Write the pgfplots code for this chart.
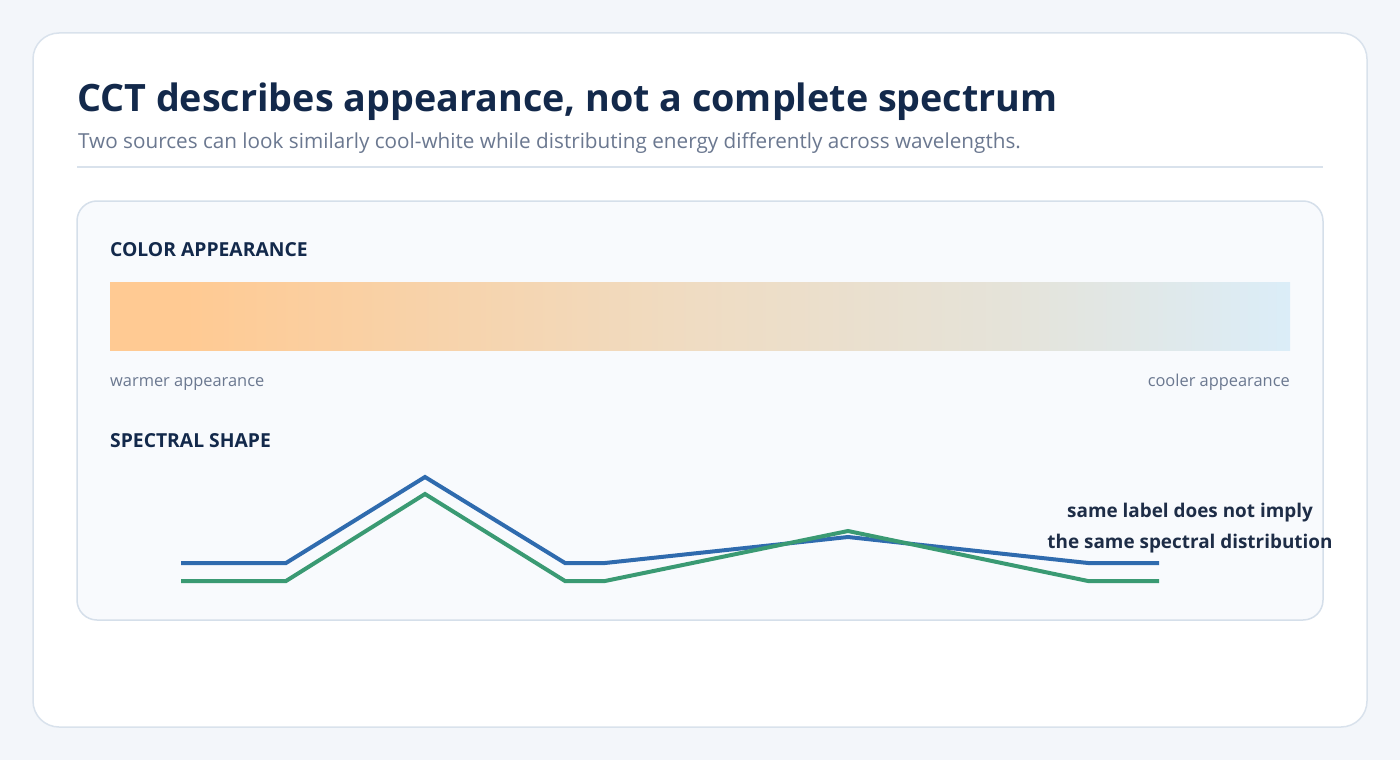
\documentclass[border=0pt]{standalone}
\usepackage{fontspec}
\setmainfont{Open Sans}
\usepackage{pgfplots}
\pgfplotsset{compat=1.18}

\definecolor{pagebg}{HTML}{F3F6FA}
\definecolor{cardline}{HTML}{D9E2EC}
\definecolor{panelbg}{HTML}{F8FAFD}
\definecolor{panelline}{HTML}{D5DFEA}
\definecolor{navy}{HTML}{13294B}
\definecolor{subgray}{HTML}{6B7890}
\definecolor{srcA}{HTML}{2F6BAE}
\definecolor{srcB}{HTML}{3A9A73}
\definecolor{notecol}{HTML}{1E2D47}
\definecolor{warm}{HTML}{FFCA93}
\definecolor{warmmid}{HTML}{EFDCC3}
\definecolor{neutral}{HTML}{E5E3D9}
\definecolor{cool}{HTML}{DBEDF8}

% 25bp = left edge of the bar, 75bp = right edge
\pgfdeclarehorizontalshading{cct}{100bp}{color(0bp)=(warm); color(28.2bp)=(warm);
  color(50bp)=(warmmid); color(63bp)=(neutral); color(75bp)=(cool); color(100bp)=(cool)}

\begin{document}
\begin{tikzpicture}[x=1pt,y=-1pt]
% page and card
\fill[pagebg] (0,0) rectangle (1400,760);
\draw[cardline, line width=1.5pt, fill=white, rounded corners=26pt] (33,33) rectangle (1367,727);

% titles
\node[anchor=base west, inner sep=0, text=navy, font=\fontsize{37.7}{44}\selectfont\bfseries]
  at (77,111) {CCT describes appearance, not a complete spectrum};
\node[anchor=base west, inner sep=0, text=subgray, font=\fontsize{20.7}{24}\selectfont]
  at (78,148) {Two sources can look similarly cool-white while distributing energy differently across wavelengths.};
\draw[cardline, line width=2pt] (77,167) -- (1323,167);

% inner panel
\draw[panelline, line width=1.5pt, fill=panelbg, rounded corners=20pt] (77,201) rectangle (1323,620);

\node[anchor=base west, inner sep=0, text=navy, font=\fontsize{19.3}{22}\selectfont\bfseries]
  at (110,256) {COLOR APPEARANCE};
\shade[shading=cct] (110,282) rectangle (1290,350);
\node[anchor=base west, inner sep=0, text=subgray, font=\fontsize{16.4}{19}\selectfont]
  at (110,386) {warmer appearance};
\node[anchor=base east, inner sep=0, text=subgray, font=\fontsize{16.4}{19}\selectfont]
  at (1290,386) {cooler appearance};

\node[anchor=base west, inner sep=0, text=navy, font=\fontsize{19.3}{22}\selectfont\bfseries]
  at (110,447) {SPECTRAL SHAPE};

% spectral curves
\begin{axis}[
  at={(181pt,-600pt)}, anchor=south west,
  scale only axis, width=978pt, height=200pt,
  xmin=181, xmax=1159, ymin=0, ymax=200,
  hide axis, clip=false,
]
\addplot[srcA, line width=4pt] coordinates {
(181,37) (286,37) (425,123) (565,37) (605,37) (848,63) (1088,37) (1159,37)
};
\addplot[srcB, line width=4pt] coordinates {
(181,19) (286,19) (425,106) (565,19) (605,19) (848,69) (1088,19) (1159,19)
};
\end{axis}

\node[anchor=base, inner sep=0, text=notecol, font=\fontsize{18.9}{22}\selectfont\bfseries]
  at (1190,517) {same label does not imply};
\node[anchor=base, inner sep=0, text=notecol, font=\fontsize{18.9}{22}\selectfont\bfseries]
  at (1190,548) {the same spectral distribution};
\end{tikzpicture}
\end{document}
